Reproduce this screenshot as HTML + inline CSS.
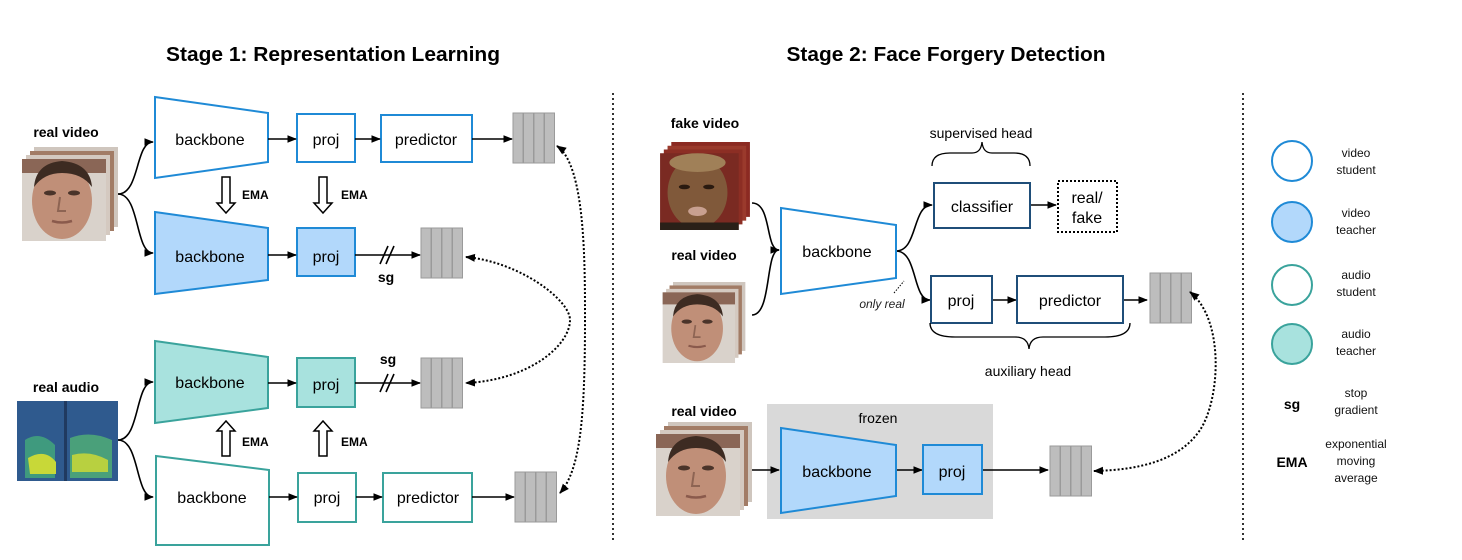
<!DOCTYPE html>
<html><head><meta charset="utf-8"><style>
html,body{margin:0;padding:0;background:#fff}
svg{display:block}
text{font-family:"Liberation Sans",sans-serif}
</style></head><body>
<svg width="1462" height="560" viewBox="0 0 1462 560" xmlns="http://www.w3.org/2000/svg">
<defs>
<marker id="ah" viewBox="0 0 10 10" refX="9" refY="5" markerWidth="6" markerHeight="6" orient="auto"><path d="M0,1 L10,5 L0,9 z" fill="#000"/></marker>
<marker id="ad" viewBox="0 0 10 10" refX="9" refY="5" markerWidth="5" markerHeight="5" orient="auto-start-reverse"><path d="M0,1 L10,5 L0,9 z" fill="#000"/></marker>
<symbol id="man" viewBox="0 0 96 94">
<rect x="12" y="0" width="84" height="80" fill="#cfc6be"/>
<rect x="8" y="4" width="84" height="80" fill="#a27c66"/>
<rect x="4" y="8" width="84" height="80" fill="#d4c9c0"/>
<rect x="0" y="12" width="84" height="82" fill="#d9d2cb"/>
<rect x="0" y="12" width="84" height="14" fill="#8a6656"/>
<ellipse cx="40" cy="54" rx="30" ry="38" fill="#c08f78"/>
<path d="M12,40 Q14,16 40,14 Q68,16 70,40 Q60,26 40,26 Q22,26 12,40z" fill="#3d2b22"/>
<ellipse cx="28" cy="46" rx="6" ry="2.5" fill="#4a342a"/>
<ellipse cx="52" cy="46" rx="6" ry="2.5" fill="#4a342a"/>
<path d="M38,50 L36,64 L44,64" stroke="#8d6453" fill="none" stroke-width="2"/>
<path d="M30,74 Q40,77 50,74" stroke="#8a5a4c" fill="none" stroke-width="2.5"/>
</symbol>
<symbol id="woman" viewBox="0 0 96 94">
<rect x="12" y="0" width="84" height="80" fill="#8b2a22"/>
<rect x="8" y="4" width="84" height="80" fill="#9a3a2c"/>
<rect x="4" y="8" width="84" height="80" fill="#8c2e24"/>
<rect x="0" y="12" width="84" height="82" fill="#7a2a22"/>
<ellipse cx="40" cy="54" rx="32" ry="38" fill="#80593a"/>
<ellipse cx="40" cy="22" rx="30" ry="10" fill="#a08058"/>
<ellipse cx="26" cy="48" rx="6" ry="2.5" fill="#2a1a10"/>
<ellipse cx="52" cy="48" rx="6" ry="2.5" fill="#2a1a10"/>
<ellipse cx="40" cy="74" rx="10" ry="5" fill="#c8a090"/>
<rect x="0" y="86" width="84" height="8" fill="#2a2018"/>
</symbol>
<g id="stack"><rect x="0" y="0" width="10" height="50" fill="#bdbdbd" stroke="#9a9a9a"/><rect x="10.5" y="0" width="10" height="50" fill="#bdbdbd" stroke="#9a9a9a"/><rect x="21" y="0" width="10" height="50" fill="#bdbdbd" stroke="#9a9a9a"/><rect x="31.5" y="0" width="10" height="50" fill="#bdbdbd" stroke="#9a9a9a"/></g>
</defs>

<text x="333" y="61" font-size="20" font-weight="bold" text-anchor="middle" textLength="334" lengthAdjust="spacingAndGlyphs">Stage 1: Representation Learning</text>
<text x="946" y="61" font-size="20" font-weight="bold" text-anchor="middle" textLength="319" lengthAdjust="spacingAndGlyphs">Stage 2: Face Forgery Detection</text>

<line x1="613" y1="93" x2="613" y2="540" stroke="#333" stroke-width="2" stroke-dasharray="2,3"/>
<line x1="1243" y1="93" x2="1243" y2="540" stroke="#333" stroke-width="2" stroke-dasharray="2,3"/>

<!-- Stage 1 inputs -->
<text x="66" y="137" font-size="14" font-weight="bold" text-anchor="middle">real video</text>
<use href="#man" x="22" y="147" width="96" height="94"/>
<text x="66" y="392" font-size="14" font-weight="bold" text-anchor="middle">real audio</text>
<rect x="17" y="401" width="101" height="80" fill="#2f5a8e"/>
<path d="M25,440 Q40,430 55,445 L55,478 L25,478z" fill="#3f9a7e"/>
<path d="M70,438 Q90,430 112,440 L112,478 L70,478z" fill="#4aa07a"/>
<path d="M28,458 Q45,448 56,462 L56,474 L30,474z" fill="#c8d838"/>
<path d="M72,455 Q90,450 108,460 L108,472 L72,472z" fill="#b8d040"/>
<rect x="64" y="401" width="3" height="80" fill="#203a60"/>

<g fill="none" stroke="#000" stroke-width="1.6">
<path d="M118,194 C140,194 135,142 153,142" marker-end="url(#ah)"/>
<path d="M118,194 C140,194 135,253 153,253" marker-end="url(#ah)"/>
<path d="M118,440 C140,440 135,382 153,382" marker-end="url(#ah)"/>
<path d="M118,440 C140,440 135,497 153,497" marker-end="url(#ah)"/>
</g>

<path d="M155,97 L268,113 L268,162 L155,178z" fill="#fff" stroke="#1f8ad6" stroke-width="2"/>
<text x="210" y="145" font-size="16" text-anchor="middle">backbone</text>
<rect x="297" y="114" width="58" height="48" fill="#fff" stroke="#1f8ad6" stroke-width="2"/>
<text x="326" y="145" font-size="16" text-anchor="middle">proj</text>
<rect x="381" y="115" width="91" height="47" fill="#fff" stroke="#1f8ad6" stroke-width="2"/>
<text x="426" y="145" font-size="16" text-anchor="middle">predictor</text>
<use href="#stack" x="513" y="113"/>
<path d="M155,212 L268,228 L268,280 L155,294z" fill="#b2d8fb" stroke="#1f8ad6" stroke-width="2"/>
<text x="210" y="262" font-size="16" text-anchor="middle">backbone</text>
<rect x="297" y="228" width="58" height="48" fill="#b2d8fb" stroke="#1f8ad6" stroke-width="2"/>
<text x="326" y="262" font-size="16" text-anchor="middle">proj</text>
<use href="#stack" x="421" y="228"/>
<path d="M155,341 L268,357 L268,408 L155,423z" fill="#a8e2de" stroke="#3aa39c" stroke-width="2"/>
<text x="210" y="388" font-size="16" text-anchor="middle">backbone</text>
<rect x="297" y="358" width="58" height="49" fill="#a8e2de" stroke="#3aa39c" stroke-width="2"/>
<text x="326" y="390" font-size="16" text-anchor="middle">proj</text>
<use href="#stack" x="421" y="358"/>
<path d="M156,456 L269,470 L269,545 L156,545z" fill="#fff" stroke="#3aa39c" stroke-width="2"/>
<text x="212" y="503" font-size="16" text-anchor="middle">backbone</text>
<rect x="298" y="473" width="58" height="49" fill="#fff" stroke="#3aa39c" stroke-width="2"/>
<text x="327" y="503" font-size="16" text-anchor="middle">proj</text>
<rect x="383" y="473" width="89" height="49" fill="#fff" stroke="#3aa39c" stroke-width="2"/>
<text x="428" y="503" font-size="16" text-anchor="middle">predictor</text>
<use href="#stack" x="515" y="472"/>

<g fill="none" stroke="#000" stroke-width="1.6">
<line x1="268" y1="139" x2="296" y2="139" marker-end="url(#ah)"/>
<line x1="355" y1="139" x2="380" y2="139" marker-end="url(#ah)"/>
<line x1="472" y1="139" x2="512" y2="139" marker-end="url(#ah)"/>
<line x1="268" y1="255" x2="296" y2="255" marker-end="url(#ah)"/>
<line x1="355" y1="255" x2="420" y2="255" marker-end="url(#ah)"/>
<line x1="268" y1="383" x2="296" y2="383" marker-end="url(#ah)"/>
<line x1="355" y1="383" x2="420" y2="383" marker-end="url(#ah)"/>
<line x1="269" y1="497" x2="297" y2="497" marker-end="url(#ah)"/>
<line x1="356" y1="497" x2="382" y2="497" marker-end="url(#ah)"/>
<line x1="472" y1="497" x2="514" y2="497" marker-end="url(#ah)"/>
<line x1="380" y1="264" x2="388" y2="246"/><line x1="386" y1="264" x2="394" y2="246"/>
<line x1="380" y1="392" x2="388" y2="374"/><line x1="386" y1="392" x2="394" y2="374"/>
</g>
<text x="386" y="282" font-size="14" font-weight="bold" text-anchor="middle">sg</text>
<text x="388" y="364" font-size="14" font-weight="bold" text-anchor="middle">sg</text>

<g fill="#fff" stroke="#000" stroke-width="1.5">
<path d="M222,177 L230,177 L230,203 L235,203 L226,213 L217,203 L222,203z"/>
<path d="M319,177 L327,177 L327,203 L332,203 L323,213 L314,203 L319,203z"/>
<path d="M222,456 L230,456 L230,431 L235,431 L226,421 L217,431 L222,431z"/>
<path d="M319,456 L327,456 L327,431 L332,431 L323,421 L314,431 L319,431z"/>
</g>
<g font-size="12" font-weight="bold">
<text x="242" y="199">EMA</text><text x="341" y="199">EMA</text>
<text x="242" y="446">EMA</text><text x="341" y="446">EMA</text>
</g>

<g fill="none" stroke="#000" stroke-width="2" stroke-dasharray="2,2">
<path d="M557,146 C585,165 585,260 585,320 C585,420 580,470 560,493" marker-start="url(#ad)" marker-end="url(#ad)"/>
<path d="M466,257 C520,262 570,300 570,320 C570,345 530,380 466,383" marker-start="url(#ad)" marker-end="url(#ad)"/>
</g>

<!-- Stage 2 -->
<rect x="767" y="404" width="226" height="115" fill="#d9d9d9"/>
<text x="705" y="128" font-size="14" font-weight="bold" text-anchor="middle">fake video</text>
<use href="#woman" x="658" y="142" width="94" height="88"/>
<text x="704" y="260" font-size="14" font-weight="bold" text-anchor="middle">real video</text>
<use href="#man" x="656" y="282" width="96" height="81"/>
<text x="704" y="416" font-size="14" font-weight="bold" text-anchor="middle">real video</text>
<use href="#man" x="656" y="422" width="96" height="94"/>

<g fill="none" stroke="#000" stroke-width="1.6">
<path d="M752,203 C772,203 765,250 779,250" marker-end="url(#ah)"/>
<path d="M752,315 C772,315 765,250 779,250"/>
<path d="M896,251 C918,251 912,205 932,205" marker-end="url(#ah)"/>
<path d="M896,251 C918,251 912,300 930,300" marker-end="url(#ah)"/>
<line x1="1030" y1="205" x2="1056" y2="205" marker-end="url(#ah)"/>
<line x1="992" y1="300" x2="1016" y2="300" marker-end="url(#ah)"/>
<line x1="1123" y1="300" x2="1147" y2="300" marker-end="url(#ah)"/>
<line x1="752" y1="470" x2="779" y2="470" marker-end="url(#ah)"/>
<line x1="896" y1="470" x2="922" y2="470" marker-end="url(#ah)"/>
<line x1="982" y1="470" x2="1048" y2="470" marker-end="url(#ah)"/>
</g>
<path d="M781,208 L896,225 L896,278 L781,294z" fill="#fff" stroke="#1f8ad6" stroke-width="2"/>
<text x="837" y="257" font-size="16" text-anchor="middle">backbone</text>
<rect x="934" y="183" width="96" height="45" fill="#fff" stroke="#1f4e79" stroke-width="2"/>
<text x="982" y="212" font-size="16" text-anchor="middle">classifier</text>
<rect x="1058" y="181" width="59" height="51" fill="#fff" stroke="#000" stroke-width="2" stroke-dasharray="2,2"/>
<text x="1087" y="203" font-size="16" text-anchor="middle">real/</text>
<text x="1087" y="223" font-size="16" text-anchor="middle">fake</text>
<text x="981" y="138" font-size="14" text-anchor="middle">supervised head</text>
<path d="M932,166 Q932,153 950,153 L972,153 Q981,153 982,142 Q983,153 992,153 L1014,153 Q1030,153 1030,166" fill="none" stroke="#000" stroke-width="1.3"/>
<rect x="931" y="276" width="61" height="47" fill="#fff" stroke="#1f4e79" stroke-width="2"/>
<text x="961" y="306" font-size="16" text-anchor="middle">proj</text>
<rect x="1017" y="276" width="106" height="47" fill="#fff" stroke="#1f4e79" stroke-width="2"/>
<text x="1070" y="306" font-size="16" text-anchor="middle">predictor</text>
<use href="#stack" x="1150" y="273"/>
<path d="M930,323 Q930,337 955,337 L1015,337 Q1028,337 1029,349 Q1030,337 1043,337 L1105,337 Q1130,337 1130,323" fill="none" stroke="#000" stroke-width="1.3"/>
<text x="1028" y="376" font-size="14" text-anchor="middle">auxiliary head</text>
<text x="882" y="308" font-size="12" font-style="italic" text-anchor="middle" fill="#222">only real</text>
<line x1="894" y1="293" x2="904" y2="281" stroke="#000" stroke-width="1" stroke-dasharray="1.5,1.5"/>

<text x="878" y="423" font-size="14" text-anchor="middle">frozen</text>
<path d="M781,428 L896,445 L896,496 L781,513z" fill="#b2d8fb" stroke="#1f8ad6" stroke-width="2"/>
<text x="837" y="477" font-size="16" text-anchor="middle">backbone</text>
<rect x="923" y="445" width="59" height="49" fill="#b2d8fb" stroke="#1f8ad6" stroke-width="2"/>
<text x="952" y="477" font-size="16" text-anchor="middle">proj</text>
<use href="#stack" x="1050" y="446"/>
<path d="M1190,292 C1225,320 1220,400 1200,430 C1180,460 1140,470 1094,471" fill="none" stroke="#000" stroke-width="2" stroke-dasharray="2,2" marker-end="url(#ad)" marker-start="url(#ad)"/>

<!-- Legend -->
<circle cx="1292" cy="161" r="20" fill="#fff" stroke="#1f8ad6" stroke-width="2"/>
<circle cx="1292" cy="222" r="20" fill="#b2d8fb" stroke="#1f8ad6" stroke-width="2"/>
<circle cx="1292" cy="285" r="20" fill="#fff" stroke="#3aa39c" stroke-width="2"/>
<circle cx="1292" cy="344" r="20" fill="#a8e2de" stroke="#3aa39c" stroke-width="2"/>
<g font-size="12" text-anchor="middle" fill="#111">
<text x="1356" y="157">video</text><text x="1356" y="174">student</text>
<text x="1356" y="217">video</text><text x="1356" y="234">teacher</text>
<text x="1356" y="279">audio</text><text x="1356" y="296">student</text>
<text x="1356" y="338">audio</text><text x="1356" y="355">teacher</text>
<text x="1356" y="397">stop</text><text x="1356" y="414">gradient</text>
<text x="1356" y="448">exponential</text><text x="1356" y="465">moving</text><text x="1356" y="482">average</text>
</g>
<text x="1292" y="409" font-size="14" font-weight="bold" text-anchor="middle">sg</text>
<text x="1292" y="467" font-size="14" font-weight="bold" text-anchor="middle">EMA</text>
</svg>
</body></html>
